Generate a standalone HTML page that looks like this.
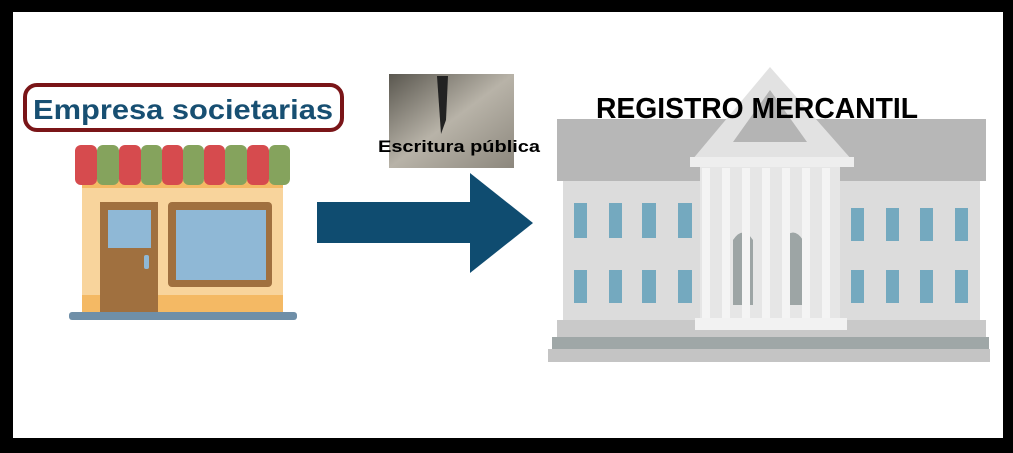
<!DOCTYPE html>
<html><head><style>
body{margin:0;width:1013px;height:453px;background:#000;overflow:hidden;position:relative;font-family:"Liberation Sans",sans-serif}
.a{position:absolute}
</style></head><body>
<div class="a" style="left:13px;top:12px;width:990px;height:426px;background:#fff"></div>
<svg class="a" style="left:0;top:0" width="1013" height="453">
<!-- building -->
<rect x="557" y="119" width="429" height="62" fill="#b7b7b7"/>
<rect x="563" y="181" width="417" height="140" fill="#dcdcdc"/>
<g fill="#74a9bf">
<rect x="574" y="203" width="13" height="35"/><rect x="609" y="203" width="13" height="35"/><rect x="642" y="203" width="14" height="35"/><rect x="678" y="203" width="14" height="35"/>
<rect x="851" y="208" width="13" height="33"/><rect x="886" y="208" width="13" height="33"/><rect x="920" y="208" width="13" height="33"/><rect x="955" y="208" width="13" height="33"/>
<rect x="574" y="270" width="13" height="33"/><rect x="609" y="270" width="13" height="33"/><rect x="642" y="270" width="14" height="33"/><rect x="678" y="270" width="14" height="33"/>
<rect x="851" y="270" width="13" height="33"/><rect x="886" y="270" width="13" height="33"/><rect x="920" y="270" width="13" height="33"/><rect x="955" y="270" width="13" height="33"/>
</g>
<rect x="700" y="165" width="140" height="160" fill="#e6e6e6"/>
<path d="M733 240 q10-15 20 0 v65 h-20z M783 240 q10-15 20 0 v65 h-20z" fill="#9da5a5"/>
<g fill="#f4f4f4"><rect x="702" y="168" width="8" height="150"/><rect x="722" y="168" width="8" height="150"/><rect x="742" y="168" width="8" height="150"/><rect x="762" y="168" width="8" height="150"/><rect x="782" y="168" width="8" height="150"/><rect x="802" y="168" width="8" height="150"/><rect x="822" y="168" width="8" height="150"/></g>
<polygon points="770,67 692,160 852,160" fill="#e2e2e2"/>
<polygon points="770,90 733,142 807,142" fill="#b4b4b4"/>
<rect x="690" y="157" width="164" height="10" fill="#eeeeee"/>
<rect x="557" y="320" width="429" height="18" fill="#c9c9c9"/>
<rect x="695" y="318" width="152" height="12" fill="#f2f2f2"/>
<rect x="552" y="337" width="437" height="12" fill="#9fa7a7"/>
<rect x="548" y="349" width="442" height="13" fill="#c4c4c4"/>
<!-- arrow -->
<rect x="317" y="202" width="155" height="41" fill="#0f4c70"/>
<polygon points="470,173 533,223 470,273" fill="#0f4c70"/>
<!-- store -->
<rect x="82" y="180" width="201" height="132" fill="#f8d49c"/>
<rect x="82" y="295" width="201" height="17" fill="#f4b964"/>
<rect x="82" y="180" width="201" height="8" fill="#f4b964"/>
<g>
<rect x="75" y="145" width="22" height="40" rx="6" fill="#d64b4e"/><rect x="97" y="145" width="22" height="40" rx="6" fill="#85a35d"/>
<rect x="119" y="145" width="22" height="40" rx="6" fill="#d64b4e"/><rect x="141" y="145" width="21" height="40" rx="6" fill="#85a35d"/>
<rect x="162" y="145" width="21" height="40" rx="6" fill="#d64b4e"/><rect x="183" y="145" width="21" height="40" rx="6" fill="#85a35d"/>
<rect x="204" y="145" width="21" height="40" rx="6" fill="#d64b4e"/><rect x="225" y="145" width="22" height="40" rx="6" fill="#85a35d"/>
<rect x="247" y="145" width="22" height="40" rx="6" fill="#d64b4e"/><rect x="269" y="145" width="21" height="40" rx="6" fill="#85a35d"/>
</g>
<rect x="100" y="202" width="58" height="110" fill="#a0703f"/>
<rect x="108" y="210" width="43" height="38" fill="#8fb8d6"/>
<rect x="144" y="255" width="5" height="14" rx="2" fill="#8fb8d6"/>
<rect x="168" y="202" width="104" height="85" rx="4" fill="#a0703f"/>
<rect x="176" y="210" width="90" height="70" fill="#8fb8d6"/>
<rect x="69" y="312" width="228" height="8" rx="3" fill="#6f8fa8"/>
<!-- label box -->
<rect x="25" y="85" width="317" height="45" rx="12" fill="#fff" stroke="#7a1518" stroke-width="4"/>
<text x="183" y="119" text-anchor="middle" font-family="Liberation Sans, sans-serif" font-weight="bold" font-size="28" fill="#174f72" textLength="300" lengthAdjust="spacingAndGlyphs">Empresa societarias</text>
<!-- image -->
<defs><linearGradient id="g" x1="0" y1="0" x2="1" y2="1"><stop offset="0" stop-color="#5a574f"/><stop offset=".5" stop-color="#b8b3a8"/><stop offset="1" stop-color="#8c877d"/></linearGradient></defs>
<rect x="389" y="74" width="125" height="94" fill="url(#g)"/>
<polygon points="437,76 448,76 446,120 441,134" fill="#222"/>
<text x="459" y="152" text-anchor="middle" font-family="Liberation Sans, sans-serif" font-weight="bold" font-size="17" fill="#000" textLength="162" lengthAdjust="spacingAndGlyphs">Escritura pública</text>
<text x="757" y="118" text-anchor="middle" font-family="Liberation Sans, sans-serif" font-weight="bold" font-size="29" fill="#000" textLength="322" lengthAdjust="spacingAndGlyphs">REGISTRO MERCANTIL</text>
</svg>
</body></html>
